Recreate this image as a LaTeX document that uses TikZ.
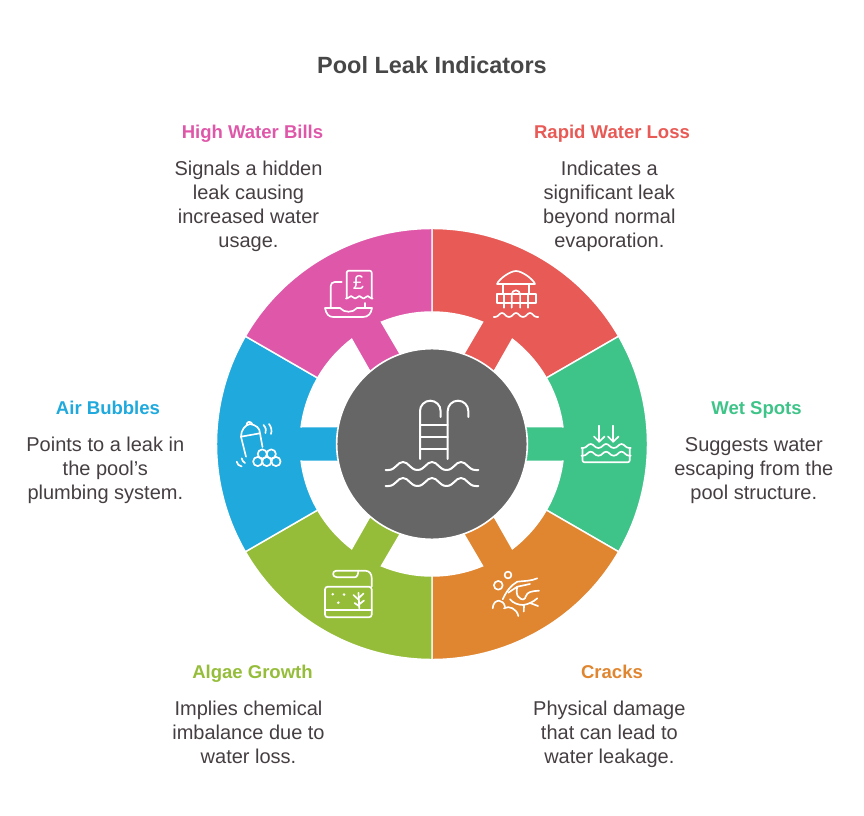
\documentclass[tikz,border=0pt]{standalone}
\usepackage{fontspec}
\setmainfont{Liberation Sans}
\usetikzlibrary{positioning}
\definecolor{billspink}{HTML}{DF57A9}
\definecolor{lossred}{HTML}{E85A55}
\definecolor{spotsgreen}{HTML}{3EC488}
\definecolor{cracksorange}{HTML}{E08530}
\definecolor{algaelime}{HTML}{95BD3A}
\definecolor{bubblesblue}{HTML}{1FA9DC}
\definecolor{hubgrey}{HTML}{666666}
\definecolor{bodyink}{HTML}{453E42}

\begin{document}
\begin{tikzpicture}[
  x=0.75pt, y=-0.75pt,
  title/.style={font=\fontsize{17.6}{22}\selectfont\bfseries, text=hubgrey!70!black, inner sep=0pt},
  head/.style={font=\fontsize{13.9}{18}\selectfont\bfseries, inner sep=0pt, text height=10pt, text depth=3pt},
  body/.style={font=\fontsize{15}{18}\selectfont, text=bodyink, align=center, inner sep=0pt, below=13.5pt of #1, xshift=-2pt},
  icon/.style={draw=white, line width=1.25pt, line cap=round, line join=round},
  hub/.style={circle, fill=hubgrey, draw=white, line width=1.2pt, minimum size=143pt, inner sep=0pt},
  petal/.pic={
    \path[y=0.75pt, fill=#1, draw=white, line width=1.1pt]
      (30:215.5) arc[start angle=30, end angle=-30, radius=215.5]
      -- (-30:132) arc[start angle=-30, end angle=-7.5, radius=132]
      -- (93,-17.5) -- (93,17.5)
      -- (7.5:132) arc[start angle=7.5, end angle=30, radius=132] -- cycle;
  },
  ripple/.pic={
    \draw[icon, line width=#1] (-0.1,0) -- (0,0)
      .. controls (0.25,0) and (0.3,-1) .. (0.5,-1) .. controls (0.7,-1) and (0.75,0) .. (1,0)
      .. controls (1.25,0) and (1.3,-1) .. (1.5,-1) .. controls (1.7,-1) and (1.75,0) .. (2,0)
      .. controls (2.25,0) and (2.3,-1) .. (2.5,-1) .. controls (2.7,-1) and (2.75,0) .. (3,0)
      -- (3.1,0);
  }
]
\useasboundingbox (0,0) rectangle (864,816);
\coordinate (centre) at (432,444);

% ring
\pic[rotate=60] at (centre) {petal=lossred};
\pic[rotate=0] at (centre) {petal=spotsgreen};
\pic[rotate=-60] at (centre) {petal=cracksorange};
\pic[rotate=-120] at (centre) {petal=algaelime};
\pic[rotate=180] at (centre) {petal=bubblesblue};
\pic[rotate=120] at (centre) {petal=billspink};
\node[hub] (pool) at (centre) {};

% pool ladder
\draw[icon, line width=1.5pt] (420,459) -- (420,411) arc[start angle=180, end angle=360, radius=10.3] -- (440.6,417);
\draw[icon, line width=1.5pt] (447.7,459) -- (447.7,411) arc[start angle=180, end angle=360, radius=10.3] -- (468.3,417);
\draw[icon, line width=1.5pt] (420,425) -- (447.7,425);
\draw[icon, line width=1.5pt] (420,437) -- (447.7,437);
\draw[icon, line width=1.5pt] (420,449) -- (447.7,449);
\pic[xscale=29, yscale=8] at (388.5,470) {ripple=1.5pt};
\pic[xscale=29, yscale=8] at (388.5,486) {ripple=1.5pt};

% bills
\draw[icon, rounded corners=1.5pt] (346.7,298) -- (346.7,270.7) -- (371.7,270.7) -- (371.7,298);
\pic[xscale=8.3, yscale=2.5] at (346.9,298.5) {ripple=1.25pt};
\node[font=\fontsize{15}{16}\selectfont, text=white, inner sep=0pt] (pound) at (358.5,283) {£};
\draw[icon, rounded corners=3pt] (341.7,282) -- (330.7,282) -- (330.7,308);
\draw[icon] (365,303) -- (365,308);
\draw[icon] (325,308) -- (340,308) .. controls (344,313) and (353,313) .. (357,308) -- (372,308)
  .. controls (371,314) and (368,317) .. (363,317) -- (333,317) .. controls (329,317) and (326,314) .. (325,308) -- cycle;

% house
\draw[icon] (497,284) .. controls (499,279) and (510,271) .. (516,271) .. controls (522,271) and (533,279) .. (535,284) -- cycle;
\draw[icon] (502.7,284) -- (502.7,294.3);
\draw[icon] (529.3,284) -- (529.3,294.3);
\draw[icon] (496.7,294.3) rectangle (536,302.7);
\draw[icon] (504,294.3) -- (504,307.7);
\draw[icon] (528.3,294.3) -- (528.3,307.7);
\draw[icon] (511.7,307.7) -- (511.7,294.5) arc[start angle=180, end angle=360, radius=4.2] -- (520.1,307.7);
\pic[xscale=14, yscale=4] at (495,317) {ripple=1.25pt};

% water going down
\draw[icon] (599.3,425.7) -- (599.3,441.7);
\draw[icon] (594,436.5) -- (599.3,441.7) -- (604.6,436.5);
\draw[icon] (613.3,425.7) -- (613.3,441.7);
\draw[icon] (608,436.5) -- (613.3,441.7) -- (618.6,436.5);
\pic[xscale=15.4, yscale=4] at (583,448) {ripple=1.25pt};
\pic[xscale=15.4, yscale=4] at (583,455.7) {ripple=1.25pt};
\draw[icon, rounded corners=1.5pt] (582.5,448) -- (582.5,462.3) -- (629.7,462.3) -- (629.7,448);

% crack
\draw[icon] (508,575) circle[radius=3.4];
\draw[icon] (498.3,585.3) circle[radius=4.4];
\draw[icon] (492.7,608.3) .. controls (493,603) and (496,600.7) .. (499,600.7) .. controls (502,600.7) and (504,603) .. (505,606.7);
\draw[icon] (504,608.3) .. controls (509,605) and (517,609) .. (518.3,616);
\draw[icon] (502.7,599.3) .. controls (506,592) and (511,585) .. (517.3,581.7) .. controls (523,581) and (532,581) .. (537.3,578.3);
\draw[icon] (508.3,592.7) -- (517.3,586.7) .. controls (516,591) and (517,596) .. (518.3,596.7);
\draw[icon] (517.3,586.7) -- (530,584);
\draw[icon] (518.3,596.7) .. controls (522,601) and (525,600) .. (526,596) .. controls (527,592) and (532,591) .. (539,590.7);
\draw[icon] (510,599.3) .. controls (513,603) and (518,605) .. (523.3,605) .. controls (529,604) and (533,602) .. (537.3,598.3);
\draw[icon] (524,605) -- (523.8,611.5);
\draw[icon] (530,603) -- (538,606);

% tank
\draw[icon, rounded corners=2pt] (325,586.7) rectangle (371.7,617.3);
\draw[icon] (325,610) -- (371.7,610);
\draw[icon] (336,570.7) -- (365,570.7) .. controls (369.5,570.7) and (371.7,574) .. (371.7,578) -- (371.7,586.7);
\draw[icon] (336,570.7) .. controls (332,571) and (332,577.3) .. (337,577.3) -- (355,577.3) .. controls (357,577.3) and (358.3,574) .. (358.3,570.7);
\fill[white] (332.7,594.3) circle[radius=1.4];
\fill[white] (344,594.6) circle[radius=1.4];
\fill[white] (338.3,602.7) circle[radius=1.4];
\draw[icon] (359.3,608.3) -- (358.5,592.7);
\draw[icon] (353.5,595) -- (358.8,600);
\draw[icon] (363.5,593.5) -- (358.8,598);
\draw[icon] (354.5,603) -- (359,606);
\draw[icon] (364,600.5) -- (359,604.5);

% shaker
\draw[icon] (241,436.7) .. controls (241,430) and (245,425) .. (250,424) .. controls (256,425) and (260,428) .. (260,433.3) -- cycle;
\draw[icon] (246.5,424.5) .. controls (247,421) and (251,421) .. (252.5,424.3);
\draw[icon] (241,436.7) -- (246,456.7);
\draw[icon] (260,433.3) -- (262.5,447);
\draw[icon] (263.5,425) .. controls (266,428) and (266.5,430) .. (265.5,433);
\draw[icon] (269,424) .. controls (271.5,427) and (272,431) .. (271,434);
\draw[icon] (236.7,461.7) .. controls (237,464) and (239,466) .. (241.7,466.5);
\draw[icon] (241.7,458.3) .. controls (242,460) and (243,462) .. (245,463);
\draw[icon] (262.3,454) circle[radius=4.6];
\draw[icon] (271.3,454) circle[radius=4.6];
\draw[icon] (257.7,461.5) circle[radius=4.6];
\draw[icon] (266.7,461.5) circle[radius=4.6];
\draw[icon] (276,461.5) circle[radius=4.6];

% texts
\node[title] (heading) at (432,65) {Pool Leak Indicators};

\node[head, text=billspink] (bills) at (252.5,134) {High Water Bills};
\node[body=bills, xshift=-1pt] (billstext) {Signals a hidden\\leak causing\\increased water\\usage.};
\node[head, text=lossred] (loss) at (612,134) {Rapid Water Loss};
\node[body=loss] (losstext) {Indicates a\\significant leak\\beyond normal\\evaporation.};
\node[head, text=spotsgreen] (spots) at (756.5,410) {Wet Spots};
\node[body=spots] (spotstext) {Suggests water\\escaping from the\\pool structure.};
\node[head, text=bubblesblue] (bubbles) at (108,410) {Air Bubbles};
\node[body=bubbles] (bubblestext) {Points to a leak in\\the pool's\\plumbing system.};
\node[head, text=algaelime] (algae) at (252.5,674) {Algae Growth};
\node[body=algae, xshift=-1pt] (algaetext) {Implies chemical\\imbalance due to\\water loss.};
\node[head, text=cracksorange] (cracks) at (612,674) {Cracks};
\node[body=cracks] (crackstext) {Physical damage\\that can lead to\\water leakage.};
\end{tikzpicture}
\end{document}
